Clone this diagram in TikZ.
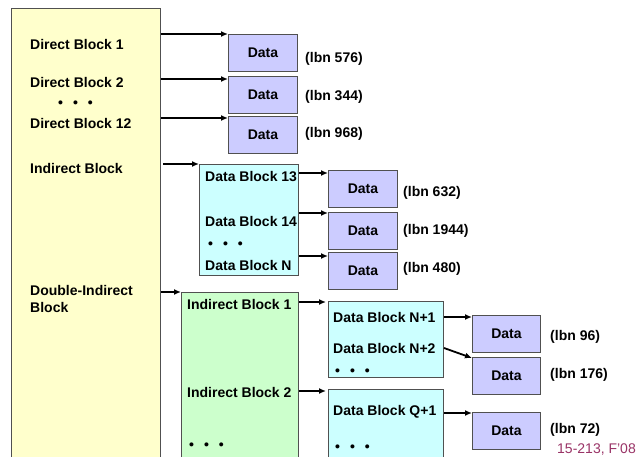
\documentclass[tikz,border=0pt]{standalone}
\usepackage{fontspec}
\setmainfont{Liberation Sans}
\usetikzlibrary{arrows.meta,positioning,calc}
\definecolor{inodefill}{RGB}{255,255,204}
\definecolor{datafill}{RGB}{204,204,255}
\definecolor{blockfill}{RGB}{204,255,255}
\definecolor{indfill}{RGB}{204,255,204}
\definecolor{boxline}{RGB}{80,80,80}
\definecolor{footer}{RGB}{153,51,102}
\newcommand\threedots{\textbullet\hspace{10pt}\textbullet\hspace{10pt}\textbullet}

\tikzset{
  box/.style={draw=boxline, line width=1pt, anchor=north west, inner sep=0pt},
  datablk/.style={box, fill=datafill, minimum width=69pt, minimum height=37pt,
    font=\bfseries\fontsize{14}{16}\selectfont},
  lbl/.style={anchor=west, inner sep=0pt, font=\bfseries\fontsize{14}{17}\selectfont},
  ptr/.style={-{Latex[length=7pt,width=6pt]}, line width=1.8pt},
}

\begin{document}
\begin{tikzpicture}[x=1pt, y=-1pt]
\useasboundingbox (0,0) rectangle (639,457);
\clip (0,0) rectangle (639,457);

% inode
\node[box, fill=inodefill, minimum width=149pt, minimum height=470pt] (inode) at (11,8) {};
\node[lbl] (dir1) at (30,44) {Direct Block 1};
\node[lbl] (dir2) at (30,82) {Direct Block 2};
\node[lbl] (dirdots) at (58,104) {\threedots};
\node[lbl] (dir12) at (30,123) {Direct Block 12};
\node[lbl] (ind) at (30,168) {Indirect Block};
\node[lbl, align=left] (dind) at (30,299) {Double-Indirect\\Block};

% direct data blocks
\node[datablk] (d1) at (228,34) {Data};
\node[datablk] (d2) at (228,76) {Data};
\node[datablk] (d3) at (228,116) {Data};
\node[lbl] (lbn1) at (305,59) {(lbn 576)};
\node[lbl] (lbn2) at (305,97) {(lbn 344)};
\node[lbl] (lbn3) at (305,134) {(lbn 968)};

% indirect block
\node[box, fill=blockfill, minimum width=99pt, minimum height=111pt] (ib) at (199,164) {};
\node[lbl] (b13) at (205,177) {Data Block 13};
\node[lbl] (b14) at (205,221) {Data Block 14};
\node[lbl] (bdots) at (208,245) {\threedots};
\node[lbl] (bN) at (205,265) {Data Block N};
\node[datablk] (d4) at (328,170) {Data};
\node[datablk] (d5) at (328,212) {Data};
\node[datablk] (d6) at (328,252) {Data};
\node[lbl] (lbn4) at (403,193) {(lbn 632)};
\node[lbl] (lbn5) at (403,231) {(lbn 1944)};
\node[lbl] (lbn6) at (403,269) {(lbn 480)};

% double-indirect block
\node[box, fill=indfill, minimum width=117pt, minimum height=180pt] (dib) at (181,292) {};
\node[lbl] (i1) at (187,304) {Indirect Block 1};
\node[lbl] (i2) at (187,392) {Indirect Block 2};
\node[lbl] (idots) at (189,446) {\threedots};
\node[box, fill=blockfill, minimum width=115pt, minimum height=76pt] (ib1) at (328,301) {};
\node[lbl] (bN1) at (333,317) {Data Block N+1};
\node[lbl] (bN2) at (333,348) {Data Block N+2};
\node[lbl] (b1dots) at (335,372) {\threedots};
\node[box, fill=blockfill, minimum width=115pt, minimum height=90pt] (ib2) at (328,389) {};
\node[lbl] (bQ1) at (333,412) {Data Block Q+1};
\node[lbl] (b2dots) at (335,448) {\threedots};
\node[datablk, minimum width=68pt] (d7) at (472,315) {Data};
\node[datablk, minimum width=68pt] (d8) at (472,357) {Data};
\node[datablk, minimum width=68pt] (d9) at (472,412) {Data};
\node[lbl] (lbn7) at (550,337) {(lbn 96)};
\node[lbl] (lbn8) at (550,375) {(lbn 176)};
\node[lbl] (lbn9) at (550,430) {(lbn 72)};

\node[anchor=west, inner sep=0pt, text=footer, font=\fontsize{14}{16}\selectfont] (course) at (557,450) {15-213, F'08};

% pointers
\foreach \n/\dy in {d1/0,d2/3,d3/2} {
  \coordinate (tip) at ([yshift=-\dy pt]\n.north west);
  \draw[ptr] (inode.east |- tip) -- (tip);
}
\draw[ptr] ([xshift=2pt]inode.east |- ib.north west) -- (ib.north west);
\draw[ptr] (inode.east |- dib.north west) -- (dib.north west);
\foreach \n/\dy in {d4/3,d5/1,d6/4} {
  \coordinate (tip) at ([yshift=-\dy pt]\n.north west);
  \draw[ptr] (ib.east |- tip) -- (tip);
}
\foreach \n/\dy in {ib1/1,ib2/2} {
  \coordinate (tip) at ([yshift=-\dy pt,xshift=-2pt]\n.north west);
  \draw[ptr] (dib.east |- tip) -- (tip);
}
\coordinate (tip) at ([yshift=-2pt]d7.north west);
\draw[ptr] (ib1.east |- tip) -- (tip);
\draw[ptr] (ib1.east |- bN2) -- ([yshift=-1pt]d8.north west);
\coordinate (tip) at ([yshift=-1pt]d9.north west);
\draw[ptr] (ib2.east |- tip) -- (tip);
\end{tikzpicture}
\end{document}
